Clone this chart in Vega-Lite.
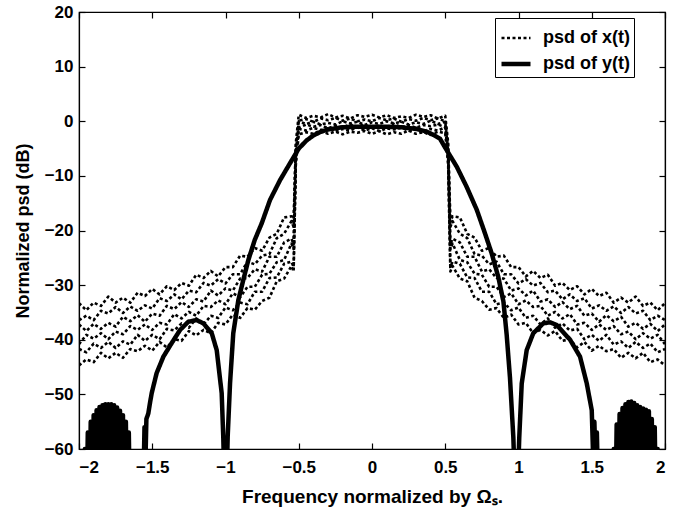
{
"$schema": "https://vega.github.io/schema/vega-lite/v6.json",
"width": 586, "height": 437,
"autosize": {"type": "none"},
"padding": {"left": 79, "top": 12, "right": 22, "bottom": 61},
"background": "white",
"datasets": {
"xt": [
{"f":-2,"k":0,"p":-33.3},{"f":-1.95,"k":0,"p":-34.6},{"f":-1.9,"k":0,"p":-33.2},{"f":-1.85,"k":0,"p":-33.8},{"f":-1.8,"k":0,"p":-32.1},{"f":-1.75,"k":0,"p":-33.2},{"f":-1.7,"k":0,"p":-32.3},{"f":-1.65,"k":0,"p":-33.2},{"f":-1.6,"k":0,"p":-31.4},{"f":-1.55,"k":0,"p":-32.0},{"f":-1.5,"k":0,"p":-30.7},{"f":-1.45,"k":0,"p":-31.7},{"f":-1.4,"k":0,"p":-30.2},{"f":-1.35,"k":0,"p":-30.9},{"f":-1.3,"k":0,"p":-29.6},{"f":-1.25,"k":0,"p":-30.1},{"f":-1.2,"k":0,"p":-28.1},{"f":-1.15,"k":0,"p":-28.7},{"f":-1.1,"k":0,"p":-27.4},{"f":-1.05,"k":0,"p":-28.4},{"f":-1,"k":0,"p":-26.7},{"f":-0.95,"k":0,"p":-26.7},{"f":-0.9,"k":0,"p":-24.6},{"f":-0.85,"k":0,"p":-24.8},{"f":-0.8,"k":0,"p":-23.2},{"f":-0.75,"k":0,"p":-23.7},{"f":-0.7,"k":0,"p":-21.3},{"f":-0.65,"k":0,"p":-20.6},{"f":-0.6,"k":0,"p":-17.6},{"f":-0.55,"k":0,"p":-17.4},{"f":-0.535,"k":0,"p":-18.4},{"f":-0.52,"k":0,"p":-4},
{"f":-0.5,"k":0,"p":1.2},{"f":-0.45,"k":0,"p":0.6},{"f":-0.4,"k":0,"p":1.0},{"f":-0.35,"k":0,"p":0.7},{"f":-0.3,"k":0,"p":1.3},{"f":-0.25,"k":0,"p":0.7},{"f":-0.2,"k":0,"p":1.0},{"f":-0.15,"k":0,"p":0.5},{"f":-0.1,"k":0,"p":1.1},{"f":-0.05,"k":0,"p":0.8},{"f":0,"k":0,"p":1.2},{"f":0.05,"k":0,"p":0.7},{"f":0.1,"k":0,"p":1.1},{"f":0.15,"k":0,"p":0.6},{"f":0.2,"k":0,"p":0.9},{"f":0.25,"k":0,"p":0.6},{"f":0.3,"k":0,"p":1.2},{"f":0.35,"k":0,"p":0.8},{"f":0.4,"k":0,"p":1.1},{"f":0.45,"k":0,"p":0.5},{"f":0.5,"k":0,"p":1.0},
{"f":0.52,"k":0,"p":-4},{"f":0.535,"k":0,"p":-18.4},{"f":0.55,"k":0,"p":-17.4},{"f":0.6,"k":0,"p":-17.6},{"f":0.65,"k":0,"p":-20.6},{"f":0.7,"k":0,"p":-21.3},{"f":0.75,"k":0,"p":-23.7},{"f":0.8,"k":0,"p":-23.2},{"f":0.85,"k":0,"p":-24.8},{"f":0.9,"k":0,"p":-24.6},{"f":0.95,"k":0,"p":-26.7},{"f":1,"k":0,"p":-26.7},{"f":1.05,"k":0,"p":-28.4},{"f":1.1,"k":0,"p":-27.4},{"f":1.15,"k":0,"p":-28.7},{"f":1.2,"k":0,"p":-28.1},{"f":1.25,"k":0,"p":-30.1},{"f":1.3,"k":0,"p":-29.6},{"f":1.35,"k":0,"p":-30.9},{"f":1.4,"k":0,"p":-30.2},{"f":1.45,"k":0,"p":-31.7},{"f":1.5,"k":0,"p":-30.7},{"f":1.55,"k":0,"p":-32.0},{"f":1.6,"k":0,"p":-31.4},{"f":1.65,"k":0,"p":-33.2},{"f":1.7,"k":0,"p":-32.3},{"f":1.75,"k":0,"p":-33.2},{"f":1.8,"k":0,"p":-32.1},{"f":1.85,"k":0,"p":-33.8},{"f":1.9,"k":0,"p":-33.2},{"f":1.95,"k":0,"p":-34.6},{"f":2,"k":0,"p":-33.3},

{"f":-2,"k":1,"p":-36.4},{"f":-1.95,"k":1,"p":-35.6},{"f":-1.9,"k":1,"p":-36.4},{"f":-1.85,"k":1,"p":-34.7},{"f":-1.8,"k":1,"p":-35.2},{"f":-1.75,"k":1,"p":-34.0},{"f":-1.7,"k":1,"p":-35.1},{"f":-1.65,"k":1,"p":-33.9},{"f":-1.6,"k":1,"p":-34.7},{"f":-1.55,"k":1,"p":-33.7},{"f":-1.5,"k":1,"p":-34.3},{"f":-1.45,"k":1,"p":-32.4},{"f":-1.4,"k":1,"p":-32.9},{"f":-1.35,"k":1,"p":-31.7},{"f":-1.3,"k":1,"p":-32.6},{"f":-1.25,"k":1,"p":-31.0},{"f":-1.2,"k":1,"p":-31.3},{"f":-1.15,"k":1,"p":-29.6},{"f":-1.1,"k":1,"p":-30.1},{"f":-1.05,"k":1,"p":-28.9},{"f":-1,"k":1,"p":-29.7},{"f":-0.95,"k":1,"p":-28.0},{"f":-0.9,"k":1,"p":-28.0},{"f":-0.85,"k":1,"p":-25.7},{"f":-0.8,"k":1,"p":-26.2},{"f":-0.75,"k":1,"p":-24.6},{"f":-0.7,"k":1,"p":-24.3},{"f":-0.65,"k":1,"p":-21.4},{"f":-0.6,"k":1,"p":-20.6},{"f":-0.55,"k":1,"p":-18.3},{"f":-0.535,"k":1,"p":-19.3},{"f":-0.52,"k":1,"p":-4.8},
{"f":-0.5,"k":1,"p":0.1},{"f":-0.45,"k":1,"p":0.4},{"f":-0.4,"k":1,"p":-0.1},{"f":-0.35,"k":1,"p":0.5},{"f":-0.3,"k":1,"p":0.2},{"f":-0.25,"k":1,"p":0.6},{"f":-0.2,"k":1,"p":0.1},{"f":-0.15,"k":1,"p":0.5},{"f":-0.1,"k":1,"p":0.0},{"f":-0.05,"k":1,"p":0.3},{"f":0,"k":1,"p":0.0},{"f":0.05,"k":1,"p":0.6},{"f":0.1,"k":1,"p":0.2},{"f":0.15,"k":1,"p":0.5},{"f":0.2,"k":1,"p":-0.1},{"f":0.25,"k":1,"p":0.4},{"f":0.3,"k":1,"p":0.1},{"f":0.35,"k":1,"p":0.6},{"f":0.4,"k":1,"p":0.2},{"f":0.45,"k":1,"p":0.5},{"f":0.5,"k":1,"p":0.0},
{"f":0.52,"k":1,"p":-4.8},{"f":0.535,"k":1,"p":-19.3},{"f":0.55,"k":1,"p":-18.3},{"f":0.6,"k":1,"p":-20.6},{"f":0.65,"k":1,"p":-21.4},{"f":0.7,"k":1,"p":-24.3},{"f":0.75,"k":1,"p":-24.6},{"f":0.8,"k":1,"p":-26.2},{"f":0.85,"k":1,"p":-25.7},{"f":0.9,"k":1,"p":-28.0},{"f":0.95,"k":1,"p":-28.0},{"f":1,"k":1,"p":-29.7},{"f":1.05,"k":1,"p":-28.9},{"f":1.1,"k":1,"p":-30.1},{"f":1.15,"k":1,"p":-29.6},{"f":1.2,"k":1,"p":-31.3},{"f":1.25,"k":1,"p":-31.0},{"f":1.3,"k":1,"p":-32.6},{"f":1.35,"k":1,"p":-31.7},{"f":1.4,"k":1,"p":-32.9},{"f":1.45,"k":1,"p":-32.4},{"f":1.5,"k":1,"p":-34.3},{"f":1.55,"k":1,"p":-33.7},{"f":1.6,"k":1,"p":-34.7},{"f":1.65,"k":1,"p":-33.9},{"f":1.7,"k":1,"p":-35.1},{"f":1.75,"k":1,"p":-34.0},{"f":1.8,"k":1,"p":-35.2},{"f":1.85,"k":1,"p":-34.7},{"f":1.9,"k":1,"p":-36.4},{"f":1.95,"k":1,"p":-35.6},{"f":2,"k":1,"p":-36.4},

{"f":-2,"k":2,"p":-37.2},{"f":-1.95,"k":2,"p":-38.4},{"f":-1.9,"k":2,"p":-37.1},{"f":-1.85,"k":2,"p":-38.0},{"f":-1.8,"k":2,"p":-36.9},{"f":-1.75,"k":2,"p":-37.6},{"f":-1.7,"k":2,"p":-35.8},{"f":-1.65,"k":2,"p":-36.6},{"f":-1.6,"k":2,"p":-35.5},{"f":-1.55,"k":2,"p":-36.7},{"f":-1.5,"k":2,"p":-35.2},{"f":-1.45,"k":2,"p":-35.6},{"f":-1.4,"k":2,"p":-33.8},{"f":-1.35,"k":2,"p":-34.4},{"f":-1.3,"k":2,"p":-33.1},{"f":-1.25,"k":2,"p":-34.0},{"f":-1.2,"k":2,"p":-32.6},{"f":-1.15,"k":2,"p":-33.0},{"f":-1.1,"k":2,"p":-31.0},{"f":-1.05,"k":2,"p":-31.9},{"f":-1,"k":2,"p":-30.6},{"f":-0.95,"k":2,"p":-31.0},{"f":-0.9,"k":2,"p":-28.8},{"f":-0.85,"k":2,"p":-28.7},{"f":-0.8,"k":2,"p":-27.1},{"f":-0.75,"k":2,"p":-27.5},{"f":-0.7,"k":2,"p":-24.8},{"f":-0.65,"k":2,"p":-24.8},{"f":-0.6,"k":2,"p":-22.2},{"f":-0.55,"k":2,"p":-21.5},{"f":-0.535,"k":2,"p":-22.5},{"f":-0.52,"k":2,"p":-5.6},
{"f":-0.5,"k":2,"p":0.0},{"f":-0.45,"k":2,"p":-0.5},{"f":-0.4,"k":2,"p":-0.1},{"f":-0.35,"k":2,"p":-0.6},{"f":-0.3,"k":2,"p":-0.3},{"f":-0.25,"k":2,"p":-0.6},{"f":-0.2,"k":2,"p":0.0},{"f":-0.15,"k":2,"p":-0.4},{"f":-0.1,"k":2,"p":-0.1},{"f":-0.05,"k":2,"p":-0.7},{"f":0,"k":2,"p":-0.2},{"f":0.05,"k":2,"p":-0.5},{"f":0.1,"k":2,"p":0.0},{"f":0.15,"k":2,"p":-0.4},{"f":0.2,"k":2,"p":-0.1},{"f":0.25,"k":2,"p":-0.6},{"f":0.3,"k":2,"p":-0.2},{"f":0.35,"k":2,"p":-0.5},{"f":0.4,"k":2,"p":0.1},{"f":0.45,"k":2,"p":-0.5},{"f":0.5,"k":2,"p":-0.1},
{"f":0.52,"k":2,"p":-5.6},{"f":0.535,"k":2,"p":-22.5},{"f":0.55,"k":2,"p":-21.5},{"f":0.6,"k":2,"p":-22.2},{"f":0.65,"k":2,"p":-24.8},{"f":0.7,"k":2,"p":-24.8},{"f":0.75,"k":2,"p":-27.5},{"f":0.8,"k":2,"p":-27.1},{"f":0.85,"k":2,"p":-28.7},{"f":0.9,"k":2,"p":-28.8},{"f":0.95,"k":2,"p":-31.0},{"f":1,"k":2,"p":-30.6},{"f":1.05,"k":2,"p":-31.9},{"f":1.1,"k":2,"p":-31.0},{"f":1.15,"k":2,"p":-33.0},{"f":1.2,"k":2,"p":-32.6},{"f":1.25,"k":2,"p":-34.0},{"f":1.3,"k":2,"p":-33.1},{"f":1.35,"k":2,"p":-34.4},{"f":1.4,"k":2,"p":-33.8},{"f":1.45,"k":2,"p":-35.6},{"f":1.5,"k":2,"p":-35.2},{"f":1.55,"k":2,"p":-36.7},{"f":1.6,"k":2,"p":-35.5},{"f":1.65,"k":2,"p":-36.6},{"f":1.7,"k":2,"p":-35.8},{"f":1.75,"k":2,"p":-37.6},{"f":1.8,"k":2,"p":-36.9},{"f":1.85,"k":2,"p":-38.0},{"f":1.9,"k":2,"p":-37.1},{"f":1.95,"k":2,"p":-38.4},{"f":2,"k":2,"p":-37.2},

{"f":-2,"k":3,"p":-40.8},{"f":-1.95,"k":3,"p":-39.1},{"f":-1.9,"k":3,"p":-39.8},{"f":-1.85,"k":3,"p":-38.8},{"f":-1.8,"k":3,"p":-39.9},{"f":-1.75,"k":3,"p":-38.5},{"f":-1.7,"k":3,"p":-39.0},{"f":-1.65,"k":3,"p":-37.5},{"f":-1.6,"k":3,"p":-38.2},{"f":-1.55,"k":3,"p":-37.2},{"f":-1.5,"k":3,"p":-38.2},{"f":-1.45,"k":3,"p":-36.9},{"f":-1.4,"k":3,"p":-37.2},{"f":-1.35,"k":3,"p":-35.3},{"f":-1.3,"k":3,"p":-36.1},{"f":-1.25,"k":3,"p":-34.9},{"f":-1.2,"k":3,"p":-35.6},{"f":-1.15,"k":3,"p":-33.8},{"f":-1.1,"k":3,"p":-34.0},{"f":-1.05,"k":3,"p":-32.8},{"f":-1,"k":3,"p":-33.5},{"f":-0.95,"k":3,"p":-31.5},{"f":-0.9,"k":3,"p":-32.2},{"f":-0.85,"k":3,"p":-30.3},{"f":-0.8,"k":3,"p":-30.3},{"f":-0.75,"k":3,"p":-28.1},{"f":-0.7,"k":3,"p":-27.9},{"f":-0.65,"k":3,"p":-25.8},{"f":-0.6,"k":3,"p":-25.4},{"f":-0.55,"k":3,"p":-22.4},{"f":-0.535,"k":3,"p":-23.4},{"f":-0.52,"k":3,"p":-6.4},
{"f":-0.5,"k":3,"p":-1.2},{"f":-0.45,"k":3,"p":-0.6},{"f":-0.4,"k":3,"p":-1.0},{"f":-0.35,"k":3,"p":-0.7},{"f":-0.3,"k":3,"p":-1.3},{"f":-0.25,"k":3,"p":-0.8},{"f":-0.2,"k":3,"p":-1.1},{"f":-0.15,"k":3,"p":-0.6},{"f":-0.1,"k":3,"p":-1.0},{"f":-0.05,"k":3,"p":-0.7},{"f":0,"k":3,"p":-1.2},{"f":0.05,"k":3,"p":-0.8},{"f":0.1,"k":3,"p":-1.1},{"f":0.15,"k":3,"p":-0.5},{"f":0.2,"k":3,"p":-1.1},{"f":0.25,"k":3,"p":-0.7},{"f":0.3,"k":3,"p":-1.2},{"f":0.35,"k":3,"p":-0.7},{"f":0.4,"k":3,"p":-0.9},{"f":0.45,"k":3,"p":-0.6},{"f":0.5,"k":3,"p":-1.1},
{"f":0.52,"k":3,"p":-6.4},{"f":0.535,"k":3,"p":-23.4},{"f":0.55,"k":3,"p":-22.4},{"f":0.6,"k":3,"p":-25.4},{"f":0.65,"k":3,"p":-25.8},{"f":0.7,"k":3,"p":-27.9},{"f":0.75,"k":3,"p":-28.1},{"f":0.8,"k":3,"p":-30.3},{"f":0.85,"k":3,"p":-30.3},{"f":0.9,"k":3,"p":-32.2},{"f":0.95,"k":3,"p":-31.5},{"f":1,"k":3,"p":-33.5},{"f":1.05,"k":3,"p":-32.8},{"f":1.1,"k":3,"p":-34.0},{"f":1.15,"k":3,"p":-33.8},{"f":1.2,"k":3,"p":-35.6},{"f":1.25,"k":3,"p":-34.9},{"f":1.3,"k":3,"p":-36.1},{"f":1.35,"k":3,"p":-35.3},{"f":1.4,"k":3,"p":-37.2},{"f":1.45,"k":3,"p":-36.9},{"f":1.5,"k":3,"p":-38.2},{"f":1.55,"k":3,"p":-37.2},{"f":1.6,"k":3,"p":-38.2},{"f":1.65,"k":3,"p":-37.5},{"f":1.7,"k":3,"p":-39.0},{"f":1.75,"k":3,"p":-38.5},{"f":1.8,"k":3,"p":-39.9},{"f":1.85,"k":3,"p":-38.8},{"f":1.9,"k":3,"p":-39.8},{"f":1.95,"k":3,"p":-39.1},{"f":2,"k":3,"p":-40.8},

{"f":-2,"k":4,"p":-41.7},{"f":-1.95,"k":4,"p":-42.3},{"f":-1.9,"k":4,"p":-40.7},{"f":-1.85,"k":4,"p":-41.5},{"f":-1.8,"k":4,"p":-40.4},{"f":-1.75,"k":4,"p":-41.5},{"f":-1.7,"k":4,"p":-40.3},{"f":-1.65,"k":4,"p":-40.9},{"f":-1.6,"k":4,"p":-39.1},{"f":-1.55,"k":4,"p":-40.2},{"f":-1.5,"k":4,"p":-39.1},{"f":-1.45,"k":4,"p":-39.9},{"f":-1.4,"k":4,"p":-38.0},{"f":-1.35,"k":4,"p":-38.3},{"f":-1.3,"k":4,"p":-37.0},{"f":-1.25,"k":4,"p":-37.8},{"f":-1.2,"k":4,"p":-36.1},{"f":-1.15,"k":4,"p":-37.2},{"f":-1.1,"k":4,"p":-35.6},{"f":-1.05,"k":4,"p":-36.0},{"f":-1,"k":4,"p":-34.1},{"f":-0.95,"k":4,"p":-34.6},{"f":-0.9,"k":4,"p":-33.2},{"f":-0.85,"k":4,"p":-33.5},{"f":-0.8,"k":4,"p":-31.2},{"f":-0.75,"k":4,"p":-31.2},{"f":-0.7,"k":4,"p":-28.7},{"f":-0.65,"k":4,"p":-28.6},{"f":-0.6,"k":4,"p":-26.1},{"f":-0.55,"k":4,"p":-25.7},{"f":-0.535,"k":4,"p":-26.7},{"f":-0.52,"k":4,"p":-7.2},
{"f":-0.5,"k":4,"p":-1.4},{"f":-0.45,"k":4,"p":-1.7},{"f":-0.4,"k":4,"p":-1.2},{"f":-0.35,"k":4,"p":-1.6},{"f":-0.3,"k":4,"p":-1.3},{"f":-0.25,"k":4,"p":-1.8},{"f":-0.2,"k":4,"p":-1.4},{"f":-0.15,"k":4,"p":-1.7},{"f":-0.1,"k":4,"p":-1.1},{"f":-0.05,"k":4,"p":-1.7},{"f":0,"k":4,"p":-1.3},{"f":0.05,"k":4,"p":-1.8},{"f":0.1,"k":4,"p":-1.3},{"f":0.15,"k":4,"p":-1.5},{"f":0.2,"k":4,"p":-1.2},{"f":0.25,"k":4,"p":-1.7},{"f":0.3,"k":4,"p":-1.2},{"f":0.35,"k":4,"p":-1.8},{"f":0.4,"k":4,"p":-1.4},{"f":0.45,"k":4,"p":-1.7},{"f":0.5,"k":4,"p":-1.1},
{"f":0.52,"k":4,"p":-7.2},{"f":0.535,"k":4,"p":-26.7},{"f":0.55,"k":4,"p":-25.7},{"f":0.6,"k":4,"p":-26.1},{"f":0.65,"k":4,"p":-28.6},{"f":0.7,"k":4,"p":-28.7},{"f":0.75,"k":4,"p":-31.2},{"f":0.8,"k":4,"p":-31.2},{"f":0.85,"k":4,"p":-33.5},{"f":0.9,"k":4,"p":-33.2},{"f":0.95,"k":4,"p":-34.6},{"f":1,"k":4,"p":-34.1},{"f":1.05,"k":4,"p":-36.0},{"f":1.1,"k":4,"p":-35.6},{"f":1.15,"k":4,"p":-37.2},{"f":1.2,"k":4,"p":-36.1},{"f":1.25,"k":4,"p":-37.8},{"f":1.3,"k":4,"p":-37.0},{"f":1.35,"k":4,"p":-38.3},{"f":1.4,"k":4,"p":-38.0},{"f":1.45,"k":4,"p":-39.9},{"f":1.5,"k":4,"p":-39.1},{"f":1.55,"k":4,"p":-40.2},{"f":1.6,"k":4,"p":-39.1},{"f":1.65,"k":4,"p":-40.9},{"f":1.7,"k":4,"p":-40.3},{"f":1.75,"k":4,"p":-41.5},{"f":1.8,"k":4,"p":-40.4},{"f":1.85,"k":4,"p":-41.5},{"f":1.9,"k":4,"p":-40.7},{"f":1.95,"k":4,"p":-42.3},{"f":2,"k":4,"p":-41.7},

{"f":-2,"k":5,"p":-44.7},{"f":-1.95,"k":5,"p":-43.6},{"f":-1.9,"k":5,"p":-44.1},{"f":-1.85,"k":5,"p":-42.4},{"f":-1.8,"k":5,"p":-43.4},{"f":-1.75,"k":5,"p":-42.4},{"f":-1.7,"k":5,"p":-43.3},{"f":-1.65,"k":5,"p":-41.7},{"f":-1.6,"k":5,"p":-42.1},{"f":-1.55,"k":5,"p":-41.1},{"f":-1.5,"k":5,"p":-42.0},{"f":-1.45,"k":5,"p":-40.4},{"f":-1.4,"k":5,"p":-41.4},{"f":-1.35,"k":5,"p":-39.9},{"f":-1.3,"k":5,"p":-40.2},{"f":-1.25,"k":5,"p":-38.4},{"f":-1.2,"k":5,"p":-39.2},{"f":-1.15,"k":5,"p":-38.2},{"f":-1.1,"k":5,"p":-38.8},{"f":-1.05,"k":5,"p":-36.9},{"f":-1,"k":5,"p":-37.2},{"f":-0.95,"k":5,"p":-35.4},{"f":-0.9,"k":5,"p":-36.0},{"f":-0.85,"k":5,"p":-34.2},{"f":-0.8,"k":5,"p":-34.5},{"f":-0.75,"k":5,"p":-32.9},{"f":-0.7,"k":5,"p":-32.3},{"f":-0.65,"k":5,"p":-29.3},{"f":-0.6,"k":5,"p":-28.8},{"f":-0.55,"k":5,"p":-26.5},{"f":-0.535,"k":5,"p":-27.5},{"f":-0.52,"k":5,"p":-8},
{"f":-0.5,"k":5,"p":-2.4},{"f":-0.45,"k":5,"p":-2.0},{"f":-0.4,"k":5,"p":-2.3},{"f":-0.35,"k":5,"p":-1.7},{"f":-0.3,"k":5,"p":-2.3},{"f":-0.25,"k":5,"p":-1.9},{"f":-0.2,"k":5,"p":-2.4},{"f":-0.15,"k":5,"p":-1.9},{"f":-0.1,"k":5,"p":-2.1},{"f":-0.05,"k":5,"p":-1.8},{"f":0,"k":5,"p":-2.3},{"f":0.05,"k":5,"p":-1.8},{"f":0.1,"k":5,"p":-2.4},{"f":0.15,"k":5,"p":-2.0},{"f":0.2,"k":5,"p":-2.3},{"f":0.25,"k":5,"p":-1.7},{"f":0.3,"k":5,"p":-2.3},{"f":0.35,"k":5,"p":-2.0},{"f":0.4,"k":5,"p":-2.5},{"f":0.45,"k":5,"p":-1.9},{"f":0.5,"k":5,"p":-2.2},
{"f":0.52,"k":5,"p":-8},{"f":0.535,"k":5,"p":-27.5},{"f":0.55,"k":5,"p":-26.5},{"f":0.6,"k":5,"p":-28.8},{"f":0.65,"k":5,"p":-29.3},{"f":0.7,"k":5,"p":-32.3},{"f":0.75,"k":5,"p":-32.9},{"f":0.8,"k":5,"p":-34.5},{"f":0.85,"k":5,"p":-34.2},{"f":0.9,"k":5,"p":-36.0},{"f":0.95,"k":5,"p":-35.4},{"f":1,"k":5,"p":-37.2},{"f":1.05,"k":5,"p":-36.9},{"f":1.1,"k":5,"p":-38.8},{"f":1.15,"k":5,"p":-38.2},{"f":1.2,"k":5,"p":-39.2},{"f":1.25,"k":5,"p":-38.4},{"f":1.3,"k":5,"p":-40.2},{"f":1.35,"k":5,"p":-39.9},{"f":1.4,"k":5,"p":-41.4},{"f":1.45,"k":5,"p":-40.4},{"f":1.5,"k":5,"p":-42.0},{"f":1.55,"k":5,"p":-41.1},{"f":1.6,"k":5,"p":-42.1},{"f":1.65,"k":5,"p":-41.7},{"f":1.7,"k":5,"p":-43.3},{"f":1.75,"k":5,"p":-42.4},{"f":1.8,"k":5,"p":-43.4},{"f":1.85,"k":5,"p":-42.4},{"f":1.9,"k":5,"p":-44.1},{"f":1.95,"k":5,"p":-43.6},{"f":2,"k":5,"p":-44.7}
],
"yt": [
{"f":-1.98,"p":-75},{"f":-1.97,"p":-75},{"f":-1.96,"p":-60},{"f":-1.95,"p":-75},{"f":-1.94,"p":-57},{"f":-1.93,"p":-75},{"f":-1.92,"p":-55},{"f":-1.91,"p":-75},{"f":-1.9,"p":-53.8},{"f":-1.89,"p":-75},{"f":-1.88,"p":-52.9},{"f":-1.87,"p":-75},{"f":-1.86,"p":-52.3},{"f":-1.85,"p":-75},{"f":-1.84,"p":-52},{"f":-1.83,"p":-75},{"f":-1.82,"p":-51.8},{"f":-1.81,"p":-75},{"f":-1.8,"p":-51.8},{"f":-1.79,"p":-75},{"f":-1.78,"p":-51.8},{"f":-1.77,"p":-75},{"f":-1.76,"p":-52},{"f":-1.75,"p":-75},{"f":-1.74,"p":-52.4},{"f":-1.73,"p":-75},{"f":-1.72,"p":-53},{"f":-1.71,"p":-75},{"f":-1.7,"p":-53.8},{"f":-1.69,"p":-75},{"f":-1.68,"p":-55},{"f":-1.67,"p":-75},{"f":-1.66,"p":-57},{"f":-1.65,"p":-75},
{"f":-1.56,"p":-66},{"f":-1.553,"p":-56},{"f":-1.547,"p":-63},{"f":-1.54,"p":-54.5},{"f":-1.527,"p":-53.5},{"f":-1.515,"p":-51.5},{"f":-1.504,"p":-49.8},{"f":-1.47,"p":-46.1},{"f":-1.424,"p":-43.1},{"f":-1.367,"p":-40.6},{"f":-1.31,"p":-38.2},{"f":-1.254,"p":-36.7},{"f":-1.197,"p":-36.4},{"f":-1.151,"p":-37},{"f":-1.094,"p":-38.8},{"f":-1.06,"p":-41.9},{"f":-1.026,"p":-49.8},{"f":-1.015,"p":-58},{"f":-1.0,"p":-75},{"f":-0.985,"p":-57.7},{"f":-0.969,"p":-48},{"f":-0.947,"p":-38.8},{"f":-0.912,"p":-32.7},{"f":-0.878,"p":-29},{"f":-0.844,"p":-25.4},{"f":-0.8,"p":-21.7},{"f":-0.753,"p":-18.7},{"f":-0.696,"p":-14.4},{"f":-0.628,"p":-10.8},{"f":-0.56,"p":-7.7},{"f":-0.5,"p":-5},{"f":-0.446,"p":-3.5},{"f":-0.4,"p":-2.6},{"f":-0.355,"p":-2},{"f":-0.3,"p":-1.5},{"f":-0.2,"p":-1.1},{"f":-0.1,"p":-1},{"f":0,"p":-1},{"f":0.1,"p":-1},{"f":0.2,"p":-1.1},{"f":0.3,"p":-1.4},{"f":0.373,"p":-1.9},{"f":0.42,"p":-2.5},{"f":0.464,"p":-3.2},{"f":0.51,"p":-5.3},{"f":0.578,"p":-8.3},{"f":0.646,"p":-12},{"f":0.715,"p":-16.2},{"f":0.771,"p":-20.5},{"f":0.817,"p":-24.2},{"f":0.862,"p":-28.5},{"f":0.897,"p":-33},{"f":0.919,"p":-39},{"f":0.942,"p":-47},{"f":0.965,"p":-58},{"f":0.985,"p":-75},{"f":1.005,"p":-58},{"f":1.022,"p":-48},{"f":1.056,"p":-41.9},{"f":1.101,"p":-38.8},{"f":1.169,"p":-37},{"f":1.215,"p":-36.8},{"f":1.261,"p":-37.3},{"f":1.352,"p":-40},{"f":1.42,"p":-43.1},{"f":1.466,"p":-48},{"f":1.5,"p":-52.9},{"f":1.51,"p":-62},{"f":1.518,"p":-55},{"f":1.527,"p":-64},{"f":1.535,"p":-57},{"f":1.55,"p":-75},
{"f":1.64,"p":-75},{"f":1.65,"p":-60},{"f":1.66,"p":-75},{"f":1.67,"p":-55.5},{"f":1.68,"p":-75},{"f":1.69,"p":-53.6},{"f":1.7,"p":-75},{"f":1.71,"p":-52.5},{"f":1.72,"p":-75},{"f":1.73,"p":-51.8},{"f":1.74,"p":-75},{"f":1.75,"p":-51.4},{"f":1.76,"p":-75},{"f":1.77,"p":-51.3},{"f":1.78,"p":-75},{"f":1.79,"p":-51.6},{"f":1.8,"p":-75},{"f":1.81,"p":-52},{"f":1.82,"p":-75},{"f":1.83,"p":-52.3},{"f":1.84,"p":-75},{"f":1.85,"p":-52.6},{"f":1.86,"p":-75},{"f":1.87,"p":-52.8},{"f":1.88,"p":-75},{"f":1.89,"p":-53.1},{"f":1.9,"p":-75},{"f":1.91,"p":-54.5},{"f":1.92,"p":-75},{"f":1.93,"p":-56},{"f":1.94,"p":-75},{"f":1.95,"p":-60},{"f":1.96,"p":-75}
]
},
"layer": [
{
"data": {"name": "xt"},
"mark": {"type": "line", "clip": true, "strokeJoin": "round", "color": "black"},
"encoding": {
"x": {"field": "f", "type": "quantitative", "scale": {"domain": [-2, 2], "nice": false, "zero": false},
 "axis": {"orient": "bottom", "values": [-2, -1.5, -1, -0.5, 0, 0.5, 1, 1.5, 2], "format": "~g", "title": "Frequency normalized by Ωₛ.", "labelPadding": 16, "titlePadding": 12, "titleFontSize": 19}},
"y": {"field": "p", "type": "quantitative", "scale": {"domain": [-60, 20], "nice": false, "zero": false},
 "axis": {"orient": "left", "values": [-60, -50, -40, -30, -20, -10, 0, 10, 20], "title": "Normalized psd (dB)", "labelPadding": 12, "titlePadding": 12, "titleFontSize": 18}},
"detail": {"field": "k", "type": "nominal"},
"strokeDash": {"datum": "psd of x(t)", "type": "nominal", "scale": {"domain": ["psd of x(t)", "psd of y(t)"], "range": [[3, 2.5], [1, 0]]}, "legend": {"title": null}},
"strokeWidth": {"datum": "psd of x(t)", "type": "ordinal", "scale": {"domain": ["psd of x(t)", "psd of y(t)"], "range": [2.6, 4.5]}, "legend": {"title": null}}
}
},
{
"data": {"name": "yt"},
"mark": {"type": "line", "clip": true, "strokeJoin": "round", "color": "black"},
"encoding": {
"x": {"field": "f", "type": "quantitative",
 "axis": {"orient": "top", "values": [-2, -1.5, -1, -0.5, 0, 0.5, 1, 1.5, 2], "labels": false, "title": null}},
"y": {"field": "p", "type": "quantitative",
 "axis": {"orient": "right", "values": [-60, -50, -40, -30, -20, -10, 0, 10, 20], "labels": false, "title": null}},
"strokeDash": {"datum": "psd of y(t)", "type": "nominal", "legend": {"title": null}},
"strokeWidth": {"datum": "psd of y(t)", "type": "ordinal", "legend": {"title": null}}
}
}
],
"resolve": {"axis": {"x": "independent", "y": "independent"}},
"config": {
"view": {"stroke": "black", "strokeWidth": 1.2},
"axis": {"grid": false, "domainColor": "black", "domainWidth": 1.2, "tickColor": "black", "tickWidth": 1.2, "tickSize": -6,
 "labelColor": "black", "titleColor": "black", "labelFont": "Liberation Sans", "titleFont": "Liberation Sans",
 "labelFontSize": 17, "labelFontWeight": "bold", "titleFontWeight": "bold"},
"legend": {"orient": "none", "legendX": 416, "legendY": 6, "strokeColor": "black", "fillColor": "white", "padding": 4,
 "labelFont": "Liberation Sans", "labelFontSize": 18, "labelFontWeight": "bold", "labelColor": "black",
 "symbolType": "stroke", "symbolSize": 841, "symbolStrokeColor": "black", "rowPadding": -8, "labelOffset": 10}
}
}
